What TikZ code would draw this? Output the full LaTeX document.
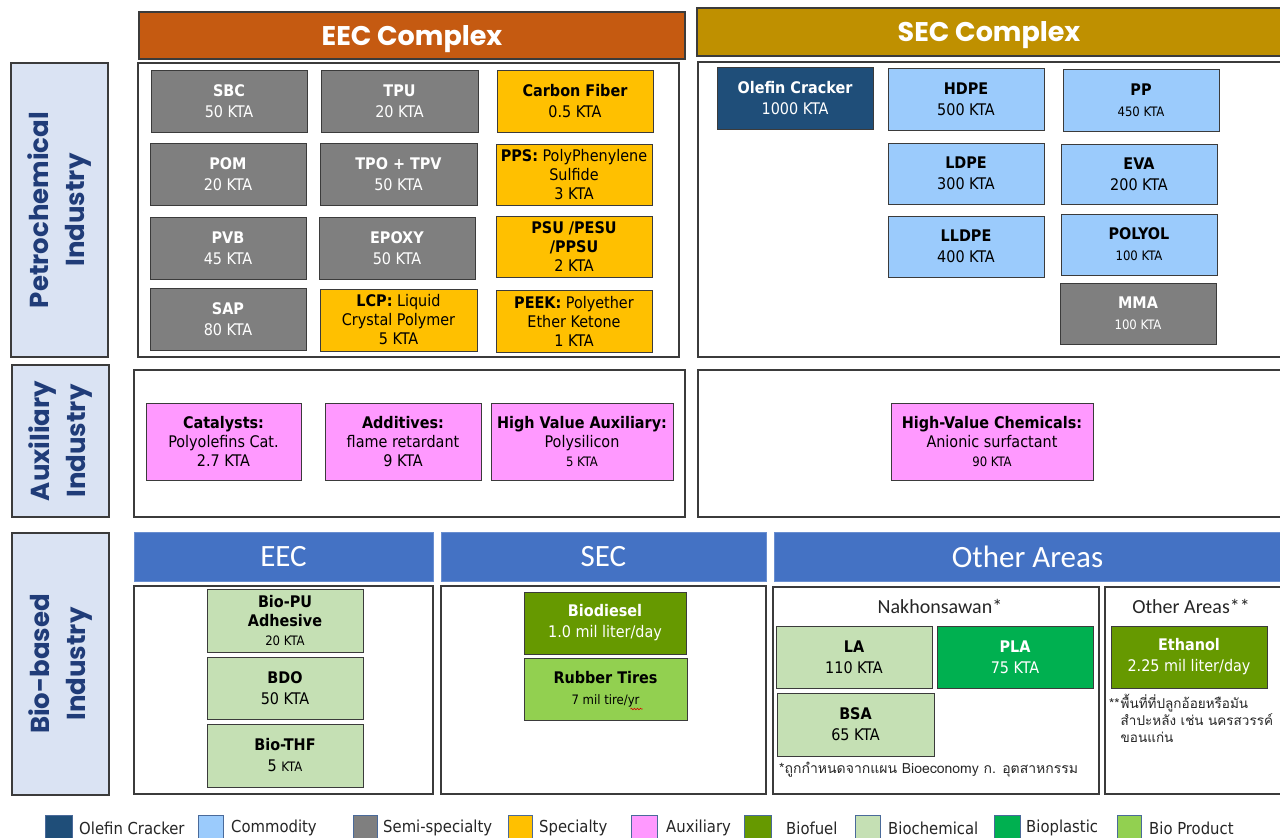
\documentclass[tikz,border=0pt]{standalone}
\usepackage{fontspec}
\usetikzlibrary{decorations.pathmorphing}
\setmainfont{DejaVu Sans Condensed}
\newfontfamily\headfont{Poppins}
\newfontfamily\calfont{Carlito}
\newfontfamily\thaifont[Script=Thai]{Loma}

\definecolor{eechead}{HTML}{C55A11}
\definecolor{sechead}{HTML}{BF9000}
\definecolor{bluehead}{HTML}{4472C4}
\definecolor{lab}{HTML}{DAE3F3}
\definecolor{labtext}{HTML}{203C78}
\definecolor{olef}{HTML}{1F4E79}
\definecolor{comm}{HTML}{9BCBFC}
\definecolor{semi}{HTML}{7F7F7F}
\definecolor{spec}{HTML}{FFC000}
\definecolor{auxc}{HTML}{FF99FF}
\definecolor{bfuel}{HTML}{669900}
\definecolor{bchem}{HTML}{C5E0B4}
\definecolor{bplast}{HTML}{00B050}
\definecolor{bprod}{HTML}{92D050}
\definecolor{edge}{HTML}{3B3B3B}
\definecolor{legedge}{HTML}{4A6A9A}

% box from corner (x1,y1) to (x2,y2): name, x1, y1, x2, y2, style, text
\newcommand\bx[7]{\node[#6, minimum width={(#4)-(#2)}, minimum height={(#5)-(#3)}] (#1) at ({((#2)+(#4))/2},{((#3)+(#5))/2}) {#7};}
\newcommand\sm[1]{{\fontsize{13}{18}\selectfont #1}}

\tikzset{
  base/.style={draw=edge, line width=1pt, inner sep=0pt, outer sep=0pt, align=center,
    font=\fontsize{16}{21}\selectfont},
  tight/.style={font=\fontsize{16}{19}\selectfont},
  semibox/.style={base, fill=semi, text=white},
  specbox/.style={base, fill=spec, text=black},
  commbox/.style={base, fill=comm, text=black},
  olefbox/.style={base, fill=olef, text=white},
  auxbox/.style={base, fill=auxc, text=black, font=\fontsize{16}{19}\selectfont},
  fuelbox/.style={base, fill=bfuel, text=white},
  chembox/.style={base, fill=bchem, text=black},
  plastbox/.style={base, fill=bplast, text=white},
  prodbox/.style={base, fill=bprod, text=black},
  frame/.style={draw=edge, line width=1.2pt, fill=white, inner sep=0pt, outer sep=0pt},
  labelbox/.style={draw=edge, line width=1.2pt, fill=lab, inner sep=0pt, outer sep=0pt},
  labeltext/.style={rotate=90, align=center, text=labtext,
    font=\headfont\bfseries\fontsize{26}{36}\selectfont},
  cplxhead/.style={draw=edge, line width=1.2pt, inner sep=0pt, outer sep=0pt, text=white,
    text height=19pt, text depth=0pt,
    font=\headfont\bfseries\fontsize{27}{30}\selectfont},
  bluebar/.style={fill=bluehead, draw=bluehead!80!white, line width=0.8pt, inner sep=0pt,
    outer sep=0pt, text=white, font=\calfont\fontsize{31}{34}\selectfont},
  subhead/.style={font=\calfont\fontsize{20}{24}\selectfont, text=black!85},
  thainote/.style={inner sep=0pt, text=black!85},
  legsq/.style={draw=legedge, line width=1pt, inner sep=0pt, outer sep=0pt},
  legtext/.style={anchor=west, inner sep=0pt, font=\fontsize{16.5}{20}\selectfont, text=black!85},
}

\begin{document}
\begin{tikzpicture}[x=1pt, y=-1pt]
\useasboundingbox[fill=white] (0,0) rectangle (1280,838);

% ---------- complex headers ----------
\bx{eechdr}{139}{12}{685}{59}{cplxhead, fill=eechead}{EEC Complex}
\bx{sechdr}{697}{8}{1281}{56}{cplxhead, fill=sechead}{SEC Complex}

% ---------- petrochemical industry ----------
\bx{petlab}{11}{63}{108}{357}{labelbox}{}
\node[labeltext] (pettxt) at (petlab.center) {Petrochemical\\Industry};
\bx{eecpet}{138}{63}{679}{357}{frame}{}
\bx{secpet}{698}{62}{1281}{357}{frame}{}

\bx{sbc}{151}{70}{307}{132}{semibox}{\textbf{SBC}\\50 KTA}
\bx{tpu}{321}{70}{478}{132}{semibox}{\textbf{TPU}\\20 KTA}
\bx{cf}{497}{70}{653}{132}{specbox}{\textbf{Carbon Fiber}\\0.5 KTA}
\bx{pom}{150}{143}{306}{205}{semibox}{\textbf{POM}\\20 KTA}
\bx{tpo}{320}{143}{477}{205}{semibox}{\textbf{TPO + TPV}\\50 KTA}
\bx{pps}{496}{144}{652}{205}{specbox, tight}{\textbf{PPS:} PolyPhenylene\\Sulfide\\3 KTA}
\bx{pvb}{150}{217}{306}{279}{semibox}{\textbf{PVB}\\45 KTA}
\bx{epoxy}{319}{217}{475}{279}{semibox}{\textbf{EPOXY}\\50 KTA}
\bx{psu}{496}{216}{652}{277}{specbox, tight}{\textbf{PSU /PESU}\\\textbf{/PPSU}\\2 KTA}
\bx{sap}{150}{288}{306}{350}{semibox}{\textbf{SAP}\\80 KTA}
\bx{lcp}{320}{289}{477}{351}{specbox, tight}{\textbf{LCP:} Liquid\\Crystal Polymer\\5 KTA}
\bx{peek}{496}{290}{652}{352}{specbox, tight}{\textbf{PEEK:} Polyether\\Ether Ketone\\1 KTA}

\bx{olefin}{717}{67}{873}{129}{olefbox}{\textbf{Olefin Cracker}\\1000 KTA}
\bx{hdpe}{888}{68}{1044}{130}{commbox}{\textbf{HDPE}\\500 KTA}
\bx{pp}{1063}{69}{1219}{131}{commbox}{\textbf{PP}\\\sm{450 KTA}}
\bx{ldpe}{888}{143}{1044}{204}{commbox}{\textbf{LDPE}\\300 KTA}
\bx{eva}{1061}{144}{1217}{204}{commbox}{\textbf{EVA}\\200 KTA}
\bx{lldpe}{888}{216}{1044}{277}{commbox}{\textbf{LLDPE}\\400 KTA}
\bx{polyol}{1061}{214}{1217}{275}{commbox}{\textbf{POLYOL}\\\sm{100 KTA}}
\bx{mma}{1060}{283}{1216}{344}{semibox}{\textbf{MMA}\\\sm{100 KTA}}

% ---------- auxiliary industry ----------
\bx{auxlab}{12}{365}{109}{517}{labelbox}{}
\node[labeltext] (auxtxt) at (auxlab.center) {Auxiliary\\Industry};
\bx{eecaux}{134}{370}{685}{517}{frame}{}
\bx{secaux}{698}{370}{1281}{517}{frame}{}

\bx{cat}{146}{403}{301}{480}{auxbox}{\textbf{Catalysts:}\\Polyolefins Cat.\\2.7 KTA}
\bx{add}{325}{403}{481}{480}{auxbox}{\textbf{Additives:}\\flame retardant\\9 KTA}
\bx{hva}{491}{403}{673}{480}{auxbox}{\textbf{High Value Auxiliary:}\\Polysilicon\\\sm{5 KTA}}
\bx{hvc}{891}{403}{1093}{480}{auxbox}{\textbf{High-Value Chemicals:}\\Anionic surfactant\\\sm{90 KTA}}

% ---------- bio-based industry ----------
\bx{biolab}{12}{533}{109}{795}{labelbox}{}
\node[labeltext] (biotxt) at (biolab.center) {Bio-based\\Industry};

\bx{eecbar}{134}{532}{433}{581}{bluebar}{EEC}
\bx{secbar}{441}{532}{766}{581}{bluebar}{SEC}
\bx{othbar}{774}{532}{1281}{581}{bluebar}{Other Areas}

\bx{eecbio}{134}{586}{433}{794}{frame}{}
\bx{secbio}{441}{586}{766}{794}{frame}{}
\bx{nakbio}{773}{587}{1099}{794}{frame}{}
\bx{othbio}{1105}{587}{1281}{794}{frame}{}

\bx{biopu}{207}{589}{363}{652}{chembox, tight}{\textbf{Bio-PU}\\\textbf{Adhesive}\\\sm{20 KTA}}
\bx{bdo}{207}{657}{363}{719}{chembox}{\textbf{BDO}\\50 KTA}
\bx{thf}{207}{724}{363}{787}{chembox}{\textbf{Bio-THF}\\5 \sm{KTA}}

\bx{diesel}{524}{592}{686}{654}{fuelbox}{\textbf{Biodiesel}\\1.0 mil liter/day}
\bx{tires}{524}{658}{687}{720}{prodbox}{\textbf{Rubber Tires}\\\sm{7 mil tire/yr}}
% spell-check squiggle under "yr"
\draw[red!85!black, line width=0.6pt, decorate,
  decoration={snake, amplitude=0.8pt, segment length=3pt}]
  ([xshift=25pt, yshift=-20pt]tires.center) -- ([xshift=37pt, yshift=-20pt]tires.center);

\node[subhead] (nakttl) at (940,606) {Nakhonsawan*};
\bx{la}{776}{626}{932}{688}{chembox}{\textbf{LA}\\110 KTA}
\bx{pla}{937}{626}{1093}{688}{plastbox}{\textbf{PLA}\\75 KTA}
\bx{bsa}{777}{693}{934}{756}{chembox}{\textbf{BSA}\\65 KTA}
\node[thainote, anchor=west, font=\thaifont\fontsize{14}{16}\selectfont] (naknote)
  at (779,770) {*ถูกกำหนดจากแผน Bioeconomy ก. อุตสาหกรรม};

\node[subhead] (othttl) at (1191,606) {Other Areas**};
\bx{ethanol}{1111}{626}{1267}{688}{fuelbox}{\textbf{Ethanol}\\2.25 mil liter/day}
\node[thainote, anchor=north west, align=left,
  font=\thaifont\fontsize{13.5}{17}\selectfont] (othnote) at (1109,694)
  {\begin{tabular}{@{}l@{\hspace{1pt}}l@{}}**&พื้นที่ที่ปลูกอ้อยหรือมัน\\ &สำปะหลัง เช่น นครสวรรค์\\ &ขอนแก่น\end{tabular}};

% ---------- legend ----------
\bx{lg1}{45}{815}{72}{842}{legsq, fill=olef}{}
\node[legtext] (lt1) at (79,828) {Olefin Cracker};
\bx{lg2}{198}{815}{223}{842}{legsq, fill=comm}{}
\node[legtext] (lt2) at (231,828) {Commodity};
\bx{lg3}{353}{815}{377}{842}{legsq, fill=semi}{}
\node[legtext] (lt3) at (383,828) {Semi-specialty};
\bx{lg4}{508}{815}{532}{842}{legsq, fill=spec}{}
\node[legtext] (lt4) at (539,828) {Specialty};
\bx{lg5}{631}{815}{657}{842}{legsq, fill=auxc}{}
\node[legtext] (lt5) at (666,828) {Auxiliary};
\bx{lg6}{744}{815}{771}{842}{legsq, fill=bfuel}{}
\node[legtext] (lt6) at (786,828) {Biofuel};
\bx{lg7}{855}{815}{880}{842}{legsq, fill=bchem}{}
\node[legtext] (lt7) at (888,828) {Biochemical};
\bx{lg8}{994}{815}{1020}{842}{legsq, fill=bplast}{}
\node[legtext] (lt8) at (1026,828) {Bioplastic};
\bx{lg9}{1117}{815}{1141}{842}{legsq, fill=bprod}{}
\node[legtext] (lt9) at (1149,828) {Bio Product};
\end{tikzpicture}
\end{document}
